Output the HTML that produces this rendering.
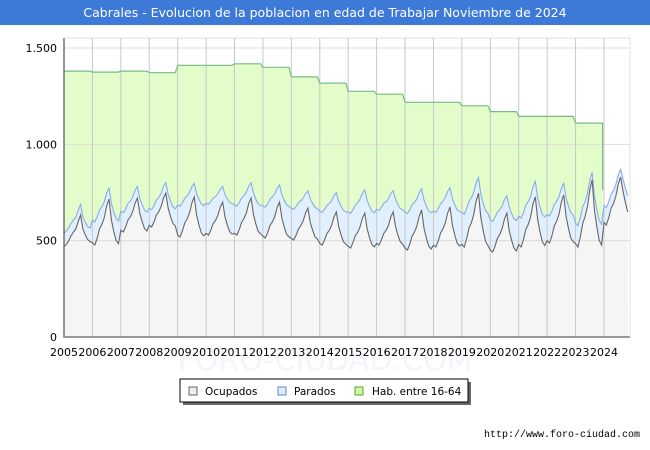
<!DOCTYPE html>
<html><head><meta charset="utf-8"><style>
body{margin:0;background:#fff;font-family:"DejaVu Sans","Liberation Sans",sans-serif}
#wrap{position:relative;width:650px;height:450px;overflow:hidden;background:#fff}
</style></head><body>
<div id="wrap">
<svg id="svg" width="650" height="450" xmlns="http://www.w3.org/2000/svg">
<rect x="0" y="0" width="650" height="25" fill="#3d7ad8"/>
<text x="325" y="17" text-anchor="middle" fill="#fff" font-size="12.5">Cabrales - Evolucion de la poblacion en edad de Trabajar Noviembre de 2024</text>
<text x="325" y="370" text-anchor="middle" fill="#f3f4fc" font-size="30">FORO-CIUDAD.COM</text>
<g id="plot"></g>
<g>
<rect x="183" y="382" width="288" height="23" fill="#666"/>
<rect x="180" y="379" width="288" height="23" fill="#fff" stroke="#000" stroke-width="1"/>
<rect x="189" y="387" width="8" height="8" fill="#eee" stroke="#666"/>
<text x="205" y="395" font-size="10.5">Ocupados</text>
<rect x="278" y="387" width="8" height="8" fill="#ddeeff" stroke="#6688bb"/>
<text x="294" y="395" font-size="10.5">Parados</text>
<rect x="355" y="387" width="8" height="8" fill="#ccff99" stroke="#669944"/>
<text x="372" y="395" font-size="10.5">Hab. entre 16-64</text>
</g>
<text x="640" y="437" text-anchor="end" font-size="10" font-family="Liberation Mono, monospace">http://www.foro-ciudad.com</text>
</svg>
</div>
<script>
const years=[2005,2006,2007,2008,2009,2010,2011,2012,2013,2014,2015,2016,2017,2018,2019,2020,2021,2022,2023,2024];
const yTicks=[0,500,1000,1500];
const yTickLabels=["0","500","1.000","1.500"];
const hab=[1380,1375,1380,1372,1410,1410,1418,1400,1350,1318,1275,1260,1218,1218,1200,1170,1145,1145,1110];
const habEnd=763;
const ocupados=[
470,480,500,525,545,560,600,633,560,530,505,495,
490,477,513,561,585,620,680,716,608,549,501,484,
554,545,571,607,624,651,695,721,642,598,563,550,
580,571,597,633,650,677,721,747,668,624,589,576,
529,519,550,592,613,644,696,727,633,581,540,525,
538,529,555,589,606,632,674,700,623,580,546,534,
539,529,558,596,615,644,692,721,635,587,548,535,
523,514,542,579,598,626,672,700,616,570,533,520,
511,503,528,561,578,603,644,669,594,553,520,508,
486,477,503,537,554,580,623,649,572,529,494,482,
471,462,489,525,543,571,616,643,562,516,480,467,
486,477,503,537,554,580,623,649,572,529,494,482,
461,451,482,524,545,576,628,659,565,513,472,457,
477,467,498,540,561,592,644,675,581,529,488,473,
481,467,509,565,593,635,705,747,621,551,495,475,
451,441,471,512,532,562,613,643,552,502,461,447,
480,467,506,558,584,623,688,727,610,545,493,475,
500,488,525,575,600,637,700,737,625,563,513,495,
484,467,519,589,624,676,763,815,658,571,502,477,
595,581,618,668,693,730,792,830,760,700,649];
const parados=[
69,70,68,65,63,61,57,55,62,66,68,70,
117,120,111,98,92,82,66,57,85,101,114,118,
98,100,94,86,82,76,66,60,78,88,96,99,
88,90,85,78,74,69,60,55,71,80,87,89,
156,160,147,129,120,106,84,70,111,133,151,157,
156,160,148,132,124,112,92,80,116,136,152,158,
147,150,140,126,119,108,91,80,112,129,143,148,
157,160,150,136,129,118,101,90,122,139,153,158,
157,160,150,136,129,118,101,90,122,139,153,158,
167,170,160,146,139,128,111,100,132,149,163,168,
177,180,171,159,153,144,129,120,147,162,174,178,
177,180,170,156,149,138,121,110,142,159,173,178,
186,190,178,162,154,142,122,110,146,166,182,188,
176,180,168,152,144,132,112,100,136,156,172,178,
166,170,157,139,130,116,94,80,121,143,161,167,
157,160,150,136,129,118,101,90,122,139,153,158,
147,150,140,126,119,108,91,80,112,129,143,148,
136,140,128,112,104,92,72,60,96,116,132,138,
107,110,100,86,79,68,51,40,72,89,103,108,
88,90,83,73,68,60,48,40,63,75,85];

const NS="http://www.w3.org/2000/svg";
const X0=64,X1=630,Y0=337,YTOP=38,yearW=28.42;
const xm=i=>X0+i*yearW/12;
const yv=v=>Y0-v*(289/1500);
const g=document.getElementById('plot');
function mk(t,a){const e=document.createElementNS(NS,t);for(const k in a)e.setAttribute(k,a[k]);g.appendChild(e);return e;}

const bg=mk('rect',{x:X0,y:YTOP,width:X1-X0,height:Y0-YTOP,fill:'#fff'});



let hp=[];
hab.forEach((v,yi)=>{for(let m=0;m<12;m++)hp.push([xm(yi*12+m),yv(v)]);});
const habX=xm(hab.length*12-1)+1;
hp.push([habX,yv(hab[hab.length-1])]);hp.push([habX,yv(habEnd)]);
const habArea=mk('path',{d:'M'+xm(0)+','+Y0+' '+hp.map(p=>'L'+p[0].toFixed(1)+','+p[1].toFixed(1)).join(' ')+' L'+habX+','+Y0+'Z',fill:'#e3fdca'});



const topPts=ocupados.map((v,i)=>[xm(i),yv(v+parados[i])]);
const ocPts=ocupados.map((v,i)=>[xm(i),yv(v)]);
const last=xm(ocupados.length-1);
const pd=a=>a.map((p,i)=>(i?'L':'M')+p[0].toFixed(1)+','+p[1].toFixed(1)).join(' ');
const parArea=mk('path',{d:pd(topPts)+' L'+last+','+Y0+' L'+xm(0)+','+Y0+'Z',fill:'#e1f0ff'});


const ocArea=mk('path',{d:pd(ocPts)+' L'+last+','+Y0+' L'+xm(0)+','+Y0+'Z',fill:'#f5f5f5'});



yTicks.forEach((v,i)=>{
 if(v>0){const l=mk('line',{x1:X0,x2:X1,y1:yv(v),y2:yv(v),stroke:'#dddddd','stroke-width':1});
 
 }
 const t=mk('text',{x:57,y:yv(v)+4,'text-anchor':'end','font-size':11,fill:'#000'});
 
 
 t.textContent=yTickLabels[i];
});
years.forEach((yr,i)=>{
 const x=X0+i*yearW;
 if(i>0){const l=mk('line',{x1:x,x2:x,y1:YTOP,y2:Y0,stroke:'#c8c8c8','stroke-width':1});
 
 }
 const t=mk('text',{x:x,y:356,'text-anchor':'middle','font-size':11,fill:'#000'});
 
 
 t.textContent=yr;
});

const hl=mk('path',{d:pd(hp),fill:'none',stroke:'#77bb88','stroke-width':1.2});


const pl=mk('path',{d:pd(topPts),fill:'none',stroke:'#88aaee','stroke-width':1.1});


const ol=mk('path',{d:pd(ocPts),fill:'none',stroke:'#666','stroke-width':1.1});



const ax=mk('path',{d:'M'+X0+','+YTOP+' L'+X0+','+Y0+' L'+X1+','+Y0,fill:'none',stroke:'#000','stroke-width':1.3});


const fr=mk('rect',{x:X0,y:YTOP,width:X1-X0,height:Y0-YTOP,fill:'none',stroke:'#ccc','stroke-width':0.6});


</script>
</body></html>
